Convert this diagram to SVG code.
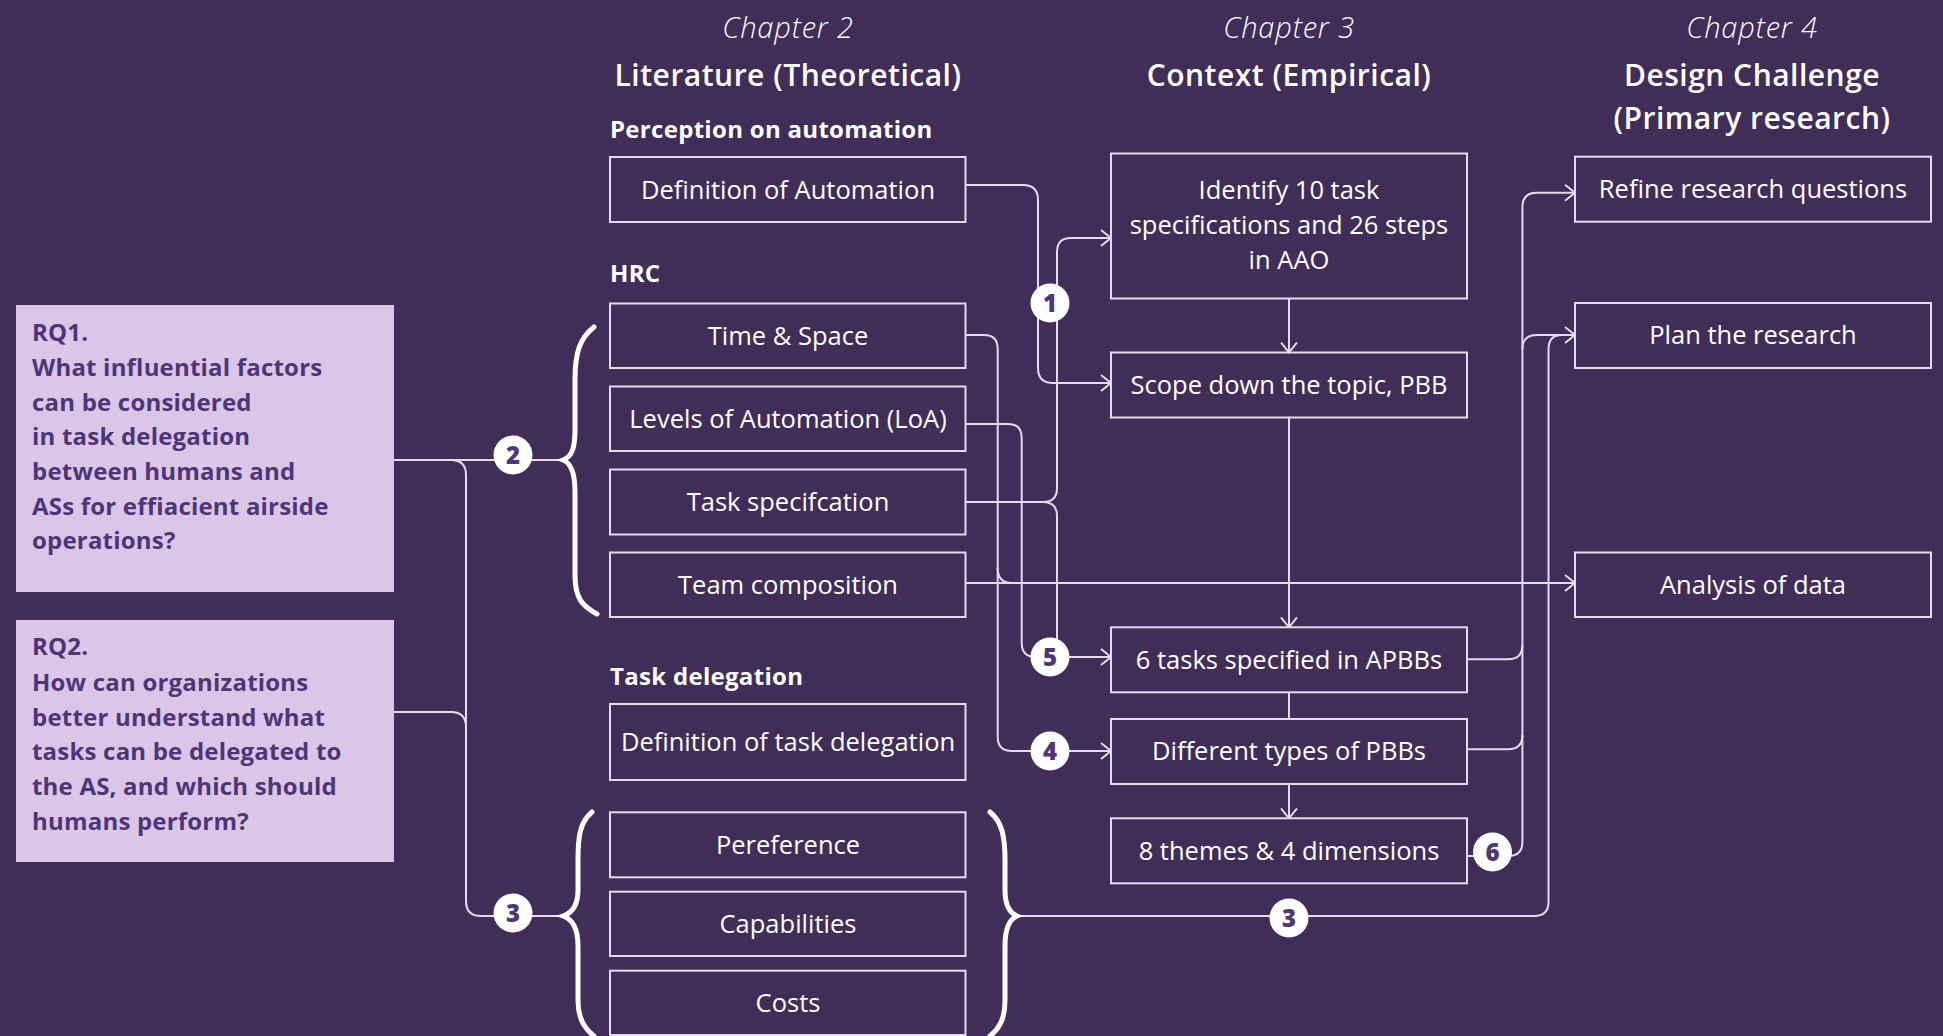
<svg xmlns="http://www.w3.org/2000/svg" width="1943" height="1036" viewBox="0 0 1943 1036">
<style>
.bg{fill:#402e59}
.box{fill:none;stroke:#e4dcee;stroke-width:2}
.bt{font-family:"Open Sans",sans-serif;font-size:25.5px;fill:#ffffff;text-anchor:middle}
.ch{font-family:"Open Sans",sans-serif;font-size:29px;font-style:italic;font-weight:300;fill:#ffffff;text-anchor:middle;letter-spacing:0.8px}
.ti{font-family:"Open Sans",sans-serif;font-size:30px;font-weight:600;fill:#ffffff;text-anchor:middle;letter-spacing:0.5px}
.sec{font-family:"Open Sans",sans-serif;font-size:24px;font-weight:700;fill:#ffffff;letter-spacing:0.3px}
.rq{fill:#dcc6e8}
.rqt{font-family:"Open Sans",sans-serif;font-size:24px;font-weight:700;fill:#4e3578;letter-spacing:0.2px}
.ln{fill:none;stroke:#e4dcee;stroke-width:2}
.br{fill:none;stroke:#ffffff;stroke-width:5;stroke-linecap:round}
.bd circle{fill:#ffffff}
.bd text{font-family:"Open Sans",sans-serif;font-size:24px;font-weight:800;fill:#4e3578;text-anchor:middle}
</style>
<defs>
<marker id="ah" markerUnits="userSpaceOnUse" viewBox="0 0 12 20" markerWidth="12" markerHeight="20" refX="11" refY="10" orient="auto">
<path d="M1 2 L11 10 L1 18" fill="none" stroke="#e4dcee" stroke-width="2"/>
</marker>
</defs>
<rect class="bg" x="0" y="0" width="1943" height="1036"/>

<g id="headers">
<text class="ch" x="788" y="38">Chapter 2</text>
<text class="ti" x="788" y="86">Literature (Theoretical)</text>
<text class="ch" x="1289" y="38">Chapter 3</text>
<text class="ti" x="1289" y="86">Context (Empirical)</text>
<text class="ch" x="1752" y="38">Chapter 4</text>
<text class="ti" x="1752" y="86">Design Challenge</text>
<text class="ti" x="1752" y="129">(Primary research)</text>
<text class="sec" x="610" y="138">Perception on automation</text>
<text class="sec" x="610" y="282">HRC</text>
<text class="sec" x="610" y="685">Task delegation</text>
</g>

<g id="rq1">
<rect class="rq" x="16" y="305" width="378" height="287"/>
<text class="rqt" x="32"><tspan x="32" y="341">RQ1.</tspan><tspan x="32" y="376">What influential factors</tspan><tspan x="32" y="411">can be considered</tspan><tspan x="32" y="445">in task delegation</tspan><tspan x="32" y="480">between humans and</tspan><tspan x="32" y="515">ASs for effiacient airside</tspan><tspan x="32" y="549">operations?</tspan></text>
</g>
<g id="rq2">
<rect class="rq" x="16" y="620" width="378" height="242"/>
<text class="rqt" x="32"><tspan x="32" y="655">RQ2.</tspan><tspan x="32" y="691">How can organizations</tspan><tspan x="32" y="726">better understand what</tspan><tspan x="32" y="760">tasks can be delegated to</tspan><tspan x="32" y="795">the AS, and which should</tspan><tspan x="32" y="830">humans perform?</tspan></text>
</g>

<g id="connectors">
<path class="ln" d="M965.5 185 H1023 Q1038 185 1038 200 V368 Q1038 383 1053 383 H1111" marker-end="url(#ah)"/>
<path class="ln" d="M965.5 502 H1043 Q1057 502 1057 488 V252 Q1057 238 1071 238 H1111" marker-end="url(#ah)"/>
<path class="ln" d="M1043 502 Q1057 502 1057 516 V645"/>
<path class="ln" d="M965.5 424 H1008 Q1021.7 424 1021.7 438 V643 Q1021.7 657 1036 657 H1050"/>
<path class="ln" d="M1050 657 H1111" marker-end="url(#ah)"/>
<path class="ln" d="M965.5 335 H984 Q997.7 335 997.7 349 V737 Q997.7 751 1012 751 H1050"/>
<path class="ln" d="M997.7 568 Q997.7 583 1012 583"/>
<path class="ln" d="M965.5 583 H1575" marker-end="url(#ah)"/>
<path class="ln" d="M1050 751 H1111" marker-end="url(#ah)"/>
<path class="ln" d="M1289 298.5 V352.5" marker-end="url(#ah)"/>
<path class="ln" d="M1289 417.5 V627.3" marker-end="url(#ah)"/>
<path class="ln" d="M1289 692.3 V719"/>
<path class="ln" d="M1289 784 V818.3" marker-end="url(#ah)"/>
<path class="ln" d="M1467 659.3 H1508 Q1522.4 659.3 1522.4 645"/>
<path class="ln" d="M1467 749.3 H1508 Q1522.4 749.3 1522.4 735"/>
<path class="ln" d="M1467 856 H1508 Q1522.4 856 1522.4 842 V207 Q1522.4 192.7 1537 192.7 H1575" marker-end="url(#ah)"/>
<path class="ln" d="M1522.4 349 Q1522.4 335 1537 335 H1575" marker-end="url(#ah)"/>
<path class="ln" d="M1017 916 H1534 Q1548.5 916 1548.5 902 V349 Q1548.5 335 1562 335"/>
<path class="ln" d="M394 460 H562"/>
<path class="ln" d="M451 460 Q466 460 466 475 V901 Q466 916 481 916 H562"/>
<path class="ln" d="M394 712 H451 Q466 712 466 727"/>
</g>

<g id="braces">
<path class="br" d="M594 327 C580 338 575 352 575 380 L575 430 C575 450 571 457 563 460 C571 463 575 472 575 492 L575 575 C575 598 582 606 597 614"/>
<path class="br" d="M592 812 C580 822 578 836 578 860 L578 890 C578 906 572 913 563 916 C572 919 578 928 578 946 L578 1000 C578 1018 584 1028 594 1036"/>
<path class="br" d="M990 812 C1002 822 1005 836 1005 860 L1005 890 C1005 906 1010 913 1017 916 C1010 919 1005 928 1005 946 L1005 1000 C1005 1018 1000 1028 990 1036"/>
</g>

<g id="n-defauto"><rect class="box" x="610" y="157" width="355.5" height="65"/><text class="bt" x="788" y="198.5">Definition of Automation</text></g>
<g id="n-timespace"><rect class="box" x="610" y="303.5" width="355.5" height="64.5"/><text class="bt" x="788" y="344.5">Time &amp; Space</text></g>
<g id="n-loa"><rect class="box" x="610" y="386.5" width="355.5" height="64.5"/><text class="bt" x="788" y="427.5">Levels of Automation (LoA)</text></g>
<g id="n-taskspec"><rect class="box" x="610" y="469.5" width="355.5" height="65"/><text class="bt" x="788" y="510.5">Task specifcation</text></g>
<g id="n-team"><rect class="box" x="610" y="552.5" width="355.5" height="64.5"/><text class="bt" x="788" y="593.5">Team composition</text></g>
<g id="n-deftask"><rect class="box" x="610" y="704" width="355.5" height="76"/><text class="bt" x="788" y="750.5">Definition of task delegation</text></g>
<g id="n-pref"><rect class="box" x="610" y="812.3" width="355.5" height="65"/><text class="bt" x="788" y="853.5">Pereference</text></g>
<g id="n-cap"><rect class="box" x="610" y="891.7" width="355.5" height="64.3"/><text class="bt" x="788" y="932.5">Capabilities</text></g>
<g id="n-costs"><rect class="box" x="610" y="970.7" width="355.5" height="64.3"/><text class="bt" x="788" y="1011.5">Costs</text></g>

<g id="n-identify"><rect class="box" x="1111" y="153.5" width="356" height="145"/><text class="bt" x="1289"><tspan x="1289" y="199">Identify 10 task</tspan><tspan x="1289" y="234">specifications and 26 steps</tspan><tspan x="1289" y="268.5">in AAO</tspan></text></g>
<g id="n-scope"><rect class="box" x="1111" y="352.5" width="356" height="65"/><text class="bt" x="1289" y="394">Scope down the topic, PBB</text></g>
<g id="n-6tasks"><rect class="box" x="1111" y="627.3" width="356" height="65"/><text class="bt" x="1289" y="668.5">6 tasks specified in APBBs</text></g>
<g id="n-types"><rect class="box" x="1111" y="719" width="356" height="65"/><text class="bt" x="1289" y="760">Different types of PBBs</text></g>
<g id="n-themes"><rect class="box" x="1111" y="818.3" width="356" height="65"/><text class="bt" x="1289" y="859.5">8 themes &amp; 4 dimensions</text></g>

<g id="n-refine"><rect class="box" x="1575" y="156.7" width="356" height="65"/><text class="bt" x="1753" y="198">Refine research questions</text></g>
<g id="n-plan"><rect class="box" x="1575" y="303" width="356" height="65"/><text class="bt" x="1753" y="344">Plan the research</text></g>
<g id="n-analysis"><rect class="box" x="1575" y="552.5" width="356" height="64.5"/><text class="bt" x="1753" y="593.5">Analysis of data</text></g>

<g id="badges" class="bd">
<g id="b1"><circle cx="1050" cy="303" r="19.5"/><text x="1050" y="312">1</text></g>
<g id="b2"><circle cx="513" cy="455" r="19.5"/><text x="513" y="464">2</text></g>
<g id="b3a"><circle cx="513" cy="913" r="19.5"/><text x="513" y="922">3</text></g>
<g id="b5"><circle cx="1050" cy="657" r="19.5"/><text x="1050" y="666">5</text></g>
<g id="b4"><circle cx="1050" cy="751" r="19.5"/><text x="1050" y="760">4</text></g>
<g id="b6"><circle cx="1492.5" cy="852" r="19.5"/><text x="1492.5" y="861">6</text></g>
<g id="b3b"><circle cx="1289" cy="918" r="19.5"/><text x="1289" y="927">3</text></g>
</g>
</svg>
